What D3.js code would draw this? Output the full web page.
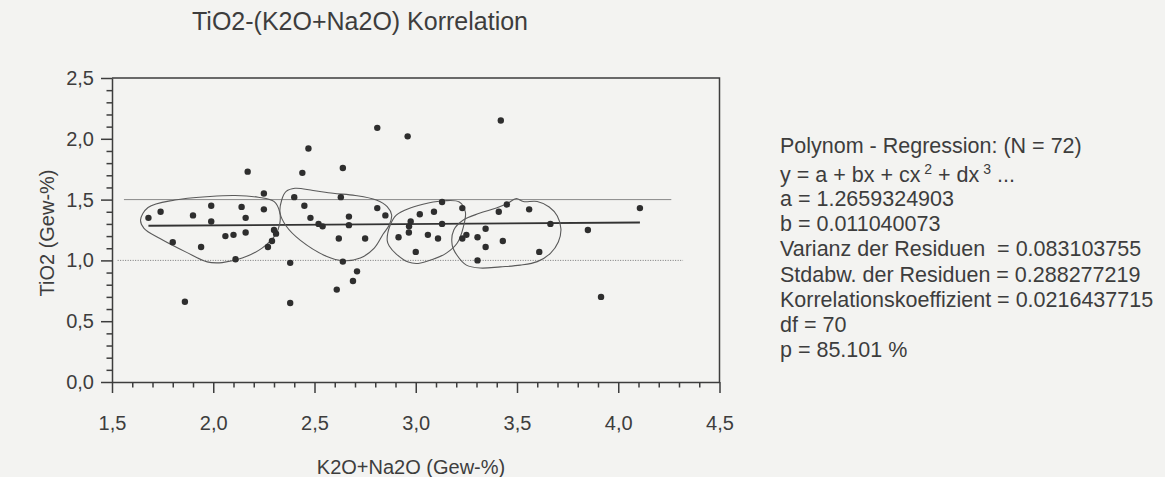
<!DOCTYPE html>
<html>
<head>
<meta charset="utf-8">
<script src="https://cdn.jsdelivr.net/npm/d3@7"></script>
<style>
  body { margin: 0; background: #f3f3f1; }
  svg { display: block; font-family: "Liberation Sans", Arial, Helvetica, sans-serif; }
  text { white-space: pre; }
</style>
</head>
<body>
<svg id="chart" width="1165" height="477"></svg>
<script>
// K2O+Na2O (wt-%) of each sample
const k2oNa2o = [
  1.68, 1.74, 1.80, 1.86, 1.90, 1.94, 1.99, 1.99, 2.06, 2.10,
  2.11, 2.14, 2.16, 2.16, 2.17, 2.25, 2.25, 2.27, 2.29, 2.30,
  2.31, 2.38, 2.38, 2.40, 2.44, 2.45, 2.47, 2.48, 2.52, 2.54,
  2.61, 2.62, 2.63, 2.64, 2.64, 2.67, 2.67, 2.69, 2.71, 2.75,
  2.81, 2.81, 2.85, 2.96, 3.42, 2.915, 2.975, 2.967, 2.966, 3.00,
  3.02, 3.06, 3.09, 3.11, 3.13, 3.13, 3.23, 3.23, 3.25, 3.305,
  3.305, 3.345, 3.345, 3.41, 3.43, 3.45, 3.56, 3.61, 3.665, 3.85,
  3.915, 4.107
];
// TiO2 (wt-%) of the same samples
const tio2 = [
  1.35, 1.40, 1.15, 0.66, 1.37, 1.11, 1.45, 1.32, 1.20, 1.21,
  1.01, 1.44, 1.35, 1.23, 1.73, 1.55, 1.42, 1.11, 1.16, 1.25,
  1.22, 0.98, 0.65, 1.52, 1.72, 1.45, 1.92, 1.35, 1.30, 1.28,
  0.76, 1.18, 1.52, 1.76, 0.99, 1.36, 1.29, 0.83, 0.91, 1.18,
  2.09, 1.43, 1.37, 2.02, 2.15, 1.19, 1.32, 1.28, 1.23, 1.07,
  1.38, 1.21, 1.40, 1.18, 1.48, 1.30, 1.43, 1.18, 1.21, 1.19,
  1.00, 1.26, 1.11, 1.40, 1.16, 1.46, 1.42, 1.07, 1.30, 1.25,
  0.70, 1.43
];

const xTickValues = [1.5, 2.0, 2.5, 3.0, 3.5, 4.0, 4.5];
const yTickValues = [0.0, 0.5, 1.0, 1.5, 2.0, 2.5];

// regression coefficients y = a + b x
const coefA = 1.2659324903;
const coefB = 0.011040073;

// horizontal guide lines: level, start, end (x in wt-%)
const guideLevels = [1.5, 1.0];
const guideStarts = [1.559, 1.528];
const guideEnds = [4.262, 4.32];

// hand-drawn group outlines, [K2O+Na2O, TiO2]
const outlineGroup1 = [
  [1.641, 1.332], [1.678, 1.435], [1.811, 1.497], [1.984, 1.526], [2.108, 1.534],
  [2.222, 1.519], [2.301, 1.483], [2.328, 1.398], [2.328, 1.299], [2.306, 1.208],
  [2.241, 1.101], [2.143, 1.019], [2.044, 0.982], [1.970, 0.988], [1.866, 1.068],
  [1.737, 1.180], [1.658, 1.264]
];
const outlineGroup2 = [
  [2.330, 1.390], [2.338, 1.497], [2.360, 1.567], [2.404, 1.593], [2.493, 1.575],
  [2.592, 1.552], [2.701, 1.534], [2.805, 1.497], [2.859, 1.443], [2.881, 1.373],
  [2.869, 1.291], [2.839, 1.217], [2.795, 1.101], [2.726, 1.019], [2.642, 0.998],
  [2.558, 1.035], [2.429, 1.167], [2.360, 1.283]
];
const outlineGroup3 = [
  [2.859, 1.165], [2.874, 1.291], [2.904, 1.373], [2.973, 1.431], [3.062, 1.472],
  [3.141, 1.491], [3.215, 1.480], [3.245, 1.398], [3.235, 1.274], [3.205, 1.143],
  [3.151, 1.060], [3.082, 1.007], [3.012, 0.975], [2.963, 0.986], [2.904, 1.052],
  [2.869, 1.118]
];
const outlineGroup4 = [
  [3.180, 1.126], [3.188, 1.250], [3.235, 1.332], [3.314, 1.387], [3.398, 1.431],
  [3.452, 1.468], [3.497, 1.509], [3.531, 1.484], [3.600, 1.484], [3.659, 1.439],
  [3.699, 1.365], [3.717, 1.258], [3.704, 1.151], [3.665, 1.058], [3.600, 0.990],
  [3.516, 0.961], [3.418, 0.947], [3.319, 0.937], [3.250, 0.961], [3.203, 1.044]
];

const statLines = [
  "Polynom - Regression: (N = 72)",
  "EQUATION",
  "a = 1.2659324903",
  "b = 0.011040073",
  "Varianz der Residuen  = 0.083103755",
  "Stdabw. der Residuen = 0.288277219",
  "Korrelationskoeffizient = 0.0216437715",
  "df = 70",
  "p = 85.101 %"
];
const statBaselines = [153, 182, 206, 231.2, 256.4, 281.6, 306.8, 332, 357.2];

const ink = "#3d3d3d";
const svg = d3.select("#chart");

const x = d3.scaleLinear().domain([1.5, 4.5]).range([112, 719.5]);
const y = d3.scaleLinear().domain([0, 2.5]).range([382, 78]);

// title
svg.append("text")
  .attr("x", 192).attr("y", 30)
  .attr("font-size", 25).attr("fill", ink)
  .text("TiO2-(K2O+Na2O) Korrelation");

// frame (top and right)
svg.append("path")
  .attr("d", `M${x(1.5)},${y(2.5)}H${x(4.5)}V${y(0)}`)
  .attr("fill", "none").attr("stroke", ink).attr("stroke-width", 1.5);

const fmt = d => d.toFixed(1).replace(".", ",");
const minorX = d3.range(15, 46).filter(i => i % 5 !== 0).map(i => i / 10);
const minorY = d3.range(0, 26).filter(i => i % 5 !== 0).map(i => i / 10);

// x axis
const gx = svg.append("g").attr("transform", `translate(0,${y(0)})`);
gx.call(d3.axisBottom(x).tickValues(xTickValues).tickSize(11).tickSizeOuter(0)
  .tickPadding(23).tickFormat(fmt));
gx.append("g").call(d3.axisBottom(x).tickValues(minorX).tickSize(5.5).tickFormat(""))
  .select(".domain").remove();

// y axis
const gy = svg.append("g").attr("transform", `translate(${x(1.5)},0)`);
gy.call(d3.axisLeft(y).tickValues(yTickValues).tickSize(11).tickSizeOuter(0)
  .tickPadding(7).tickFormat(fmt));
gy.append("g").call(d3.axisLeft(y).tickValues(minorY).tickSize(5.5).tickFormat(""))
  .select(".domain").remove();

svg.selectAll(".tick line, .domain").attr("stroke", ink).attr("stroke-width", 1.5);
svg.selectAll(".tick text").attr("font-size", 20).attr("fill", ink)
  .attr("font-family", '"Liberation Sans", Arial, Helvetica, sans-serif');

// axis titles
svg.append("text")
  .attr("x", 411).attr("y", 474)
  .attr("text-anchor", "middle").attr("font-size", 20).attr("fill", ink)
  .text("K2O+Na2O (Gew-%)");
svg.append("text")
  .attr("transform", "translate(54,233) rotate(-90)")
  .attr("text-anchor", "middle").attr("font-size", 20).attr("fill", ink)
  .text("TiO2 (Gew-%)");

// guide lines at 1.5 (solid) and 1.0 (dotted)
guideLevels.forEach((lvl, i) => {
  svg.append("line")
    .attr("x1", x(guideStarts[i])).attr("x2", x(guideEnds[i]))
    .attr("y1", y(lvl)).attr("y2", y(lvl))
    .attr("stroke", i === 0 ? "#888" : "#777")
    .attr("stroke-width", 1)
    .attr("stroke-dasharray", i === 0 ? null : "1,1.5");
});

// regression line over the data range
const [xMin, xMax] = d3.extent(k2oNa2o);
svg.append("line")
  .attr("x1", x(xMin)).attr("x2", x(xMax))
  .attr("y1", y(coefA + coefB * xMin)).attr("y2", y(coefA + coefB * xMax))
  .attr("stroke", "#333").attr("stroke-width", 1.9);

// group outlines
const outline = d3.line().x(d => x(d[0])).y(d => y(d[1])).curve(d3.curveCatmullRomClosed.alpha(0.5));
[outlineGroup1, outlineGroup2, outlineGroup3, outlineGroup4].forEach(g => {
  svg.append("path").attr("d", outline(g))
    .attr("fill", "none").attr("stroke", "#5a5a5a").attr("stroke-width", 1.1);
});

// samples
svg.append("g").selectAll("circle")
  .data(k2oNa2o.map((v, i) => [v, tio2[i]]))
  .join("circle")
  .attr("cx", d => x(d[0])).attr("cy", d => y(d[1]))
  .attr("r", 3.2).attr("fill", "#2e2e2e");

// regression statistics
const stats = svg.append("g").attr("font-size", 21.5).attr("fill", ink);
statLines.forEach((line, i) => {
  const t = stats.append("text").attr("x", 780).attr("y", statBaselines[i]);
  if (line === "EQUATION") {
    t.append("tspan").text("y = a + bx + cx");
    t.append("tspan").attr("dy", -8).attr("font-size", 14).text(" 2");
    t.append("tspan").attr("dy", 8).text(" + dx");
    t.append("tspan").attr("dy", -8).attr("font-size", 14).text(" 3");
    t.append("tspan").attr("dy", 8).text(" ...");
  } else {
    t.text(line);
  }
});
</script>
</body>
</html>
